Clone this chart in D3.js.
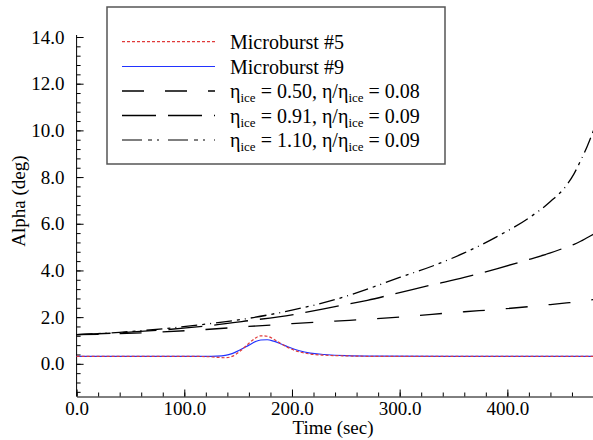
<!DOCTYPE html>
<html>
<head>
<meta charset="utf-8">
<script src="https://cdn.jsdelivr.net/npm/d3@7"></script>
<style>
  html, body { margin: 0; padding: 0; background: #fff; }
  svg { display: block; font-family: "Liberation Serif", "Times New Roman", serif; }
</style>
</head>
<body>
<svg id="chart" width="593" height="440"></svg>
<script>
// ---- data ----
const blackTime = [0, 40, 80, 120, 160, 200, 240, 270, 300, 330, 360, 390, 420, 440, 455, 462, 468, 474, 480];
const eta050 = [1.25, 1.29, 1.37, 1.47, 1.60, 1.72, 1.83, 1.91, 2.00, 2.12, 2.23, 2.33, 2.45, 2.54, 2.61, 2.64, 2.68, 2.71, 2.75];
const eta091 = [1.25, 1.33, 1.45, 1.62, 1.85, 2.10, 2.45, 2.72, 3.05, 3.38, 3.70, 4.07, 4.47, 4.75, 5.00, 5.12, 5.25, 5.40, 5.55];
const eta110 = [1.25, 1.35, 1.50, 1.70, 1.95, 2.30, 2.75, 3.20, 3.70, 4.18, 4.75, 5.44, 6.25, 6.95, 7.65, 8.15, 8.70, 9.30, 10.0];

const mbTime = [0, 100, 120, 130, 138, 145, 152, 160, 166, 171, 177, 183, 190, 198, 207, 217, 230, 250, 280, 350, 480];
const mb5 = [0.32, 0.32, 0.31, 0.28, 0.26, 0.33, 0.55, 0.88, 1.10, 1.20, 1.18, 1.06, 0.86, 0.66, 0.51, 0.42, 0.37, 0.34, 0.32, 0.32, 0.32];
const mb9 = [0.32, 0.32, 0.32, 0.33, 0.36, 0.45, 0.60, 0.80, 0.95, 1.02, 1.03, 0.97, 0.85, 0.70, 0.56, 0.46, 0.40, 0.35, 0.33, 0.32, 0.32];

const xMajorTicks = [0, 100, 200, 300, 400];
const yMajorTicks = [0, 2, 4, 6, 8, 10, 12, 14];
const legendLabels = ["Microburst #5", "Microburst #9", "0.50|0.08", "0.91|0.09", "1.10|0.09"];

// ---- layout ----
const svg = d3.select("#chart");
const x = d3.scaleLinear().domain([0, 480]).range([76.6, 593.5]);
const y = d3.scaleLinear().domain([-1.4, 14]).range([396.5, 37]);

const xMinor = d3.range(0, 481, 20);
const yMinor = d3.range(-1.2, 14.01, 0.4);

// minor ticks
svg.append("g").attr("transform", `translate(0,${y(-1.4)})`)
  .call(d3.axisBottom(x).tickValues(xMinor).tickSize(-4).tickSizeOuter(0).tickFormat(""))
  .call(g => g.select(".domain").remove());
svg.append("g").attr("transform", `translate(${x(0)},0)`)
  .call(d3.axisLeft(y).tickValues(yMinor).tickSize(-4).tickSizeOuter(0).tickFormat(""))
  .call(g => g.select(".domain").remove());

// major axes
svg.append("g").attr("transform", `translate(0,${y(-1.4)})`)
  .call(d3.axisBottom(x).tickValues(xMajorTicks).tickSize(-7).tickSizeOuter(0)
    .tickPadding(5).tickFormat(d3.format(".1f")));
const yAxisG = svg.append("g").attr("transform", `translate(${x(0)},0)`)
  .call(d3.axisLeft(y).tickValues(yMajorTicks).tickSize(-7).tickSizeOuter(0)
    .tickPadding(12).tickFormat(d3.format(".1f")));
yAxisG.select(".domain").attr("d", `M0,${y(-1.4)}V35`);

svg.selectAll(".tick text").attr("font-size", 19).attr("fill", "#000")
  .attr("font-family", "Liberation Serif, serif");
svg.selectAll(".domain, .tick line").attr("stroke", "#000");

// axis titles
svg.append("text").attr("x", 333).attr("y", 434).attr("text-anchor", "middle")
  .attr("font-size", 19).text("Time (sec)");
svg.append("text").attr("transform", "translate(25,201) rotate(-90)")
  .attr("text-anchor", "middle").attr("font-size", 19).text("Alpha (deg)");

// ---- lines ----
const line = d3.line().x(d => x(d[0])).y(d => y(d[1])).curve(d3.curveMonotoneX);
const zip = (t, v) => t.map((ti, i) => [ti, v[i]]);

const plot = svg.append("g");
const styles = [
  { data: zip(blackTime, eta050), color: "#000", width: 1.3, dash: "22,21" },
  { data: zip(blackTime, eta091), color: "#000", width: 1.3, dash: "34,12" },
  { data: zip(blackTime, eta110), color: "#000", width: 1.3, dash: "16,5,3,5,1,5" },
  { data: zip(mbTime, mb9), color: "#2233ff", width: 1.2, dash: null },
  { data: zip(mbTime, mb5), color: "#e03a3a", width: 1.2, dash: "3,2" }
];
styles.forEach(s => {
  plot.append("path").attr("d", line(s.data)).attr("fill", "none")
    .attr("stroke", s.color).attr("stroke-width", s.width)
    .attr("stroke-dasharray", s.dash);
});

// ---- legend ----
const lg = svg.append("g");
lg.append("rect").attr("x", 107).attr("y", 7).attr("width", 338).attr("height", 157)
  .attr("fill", "#fff").attr("stroke", "#555").attr("stroke-width", 1.5);
const legendStyles = [
  { color: "#e03a3a", dash: "3,2", width: 1.2 },
  { color: "#2233ff", dash: null, width: 1.2 },
  { color: "#000", dash: "22,21", width: 1.3 },
  { color: "#000", dash: "34,12", width: 1.3 },
  { color: "#555", dash: "20,6,4,5,2,9", width: 1.6 }
];
const rowY = [41.7, 66.5, 91, 115.5, 140];
legendLabels.forEach((lab, i) => {
  const yy = rowY[i];
  const st = legendStyles[i];
  lg.append("line").attr("x1", 122).attr("x2", 215).attr("y1", yy).attr("y2", yy)
    .attr("stroke", st.color).attr("stroke-width", st.width).attr("stroke-dasharray", st.dash);
  const t = lg.append("text").attr("x", 230).attr("y", yy + 7).attr("font-size", 20);
  if (i < 2) {
    t.text(lab);
  } else {
    const [a, b] = lab.split("|");
    t.append("tspan").text("η");
    t.append("tspan").attr("font-size", 13).attr("dy", 4).text("ice");
    t.append("tspan").attr("dy", -4).text(" = " + a + ", η/η");
    t.append("tspan").attr("font-size", 13).attr("dy", 4).text("ice");
    t.append("tspan").attr("dy", -4).text(" = " + b);
  }
});
</script>
</body>
</html>
